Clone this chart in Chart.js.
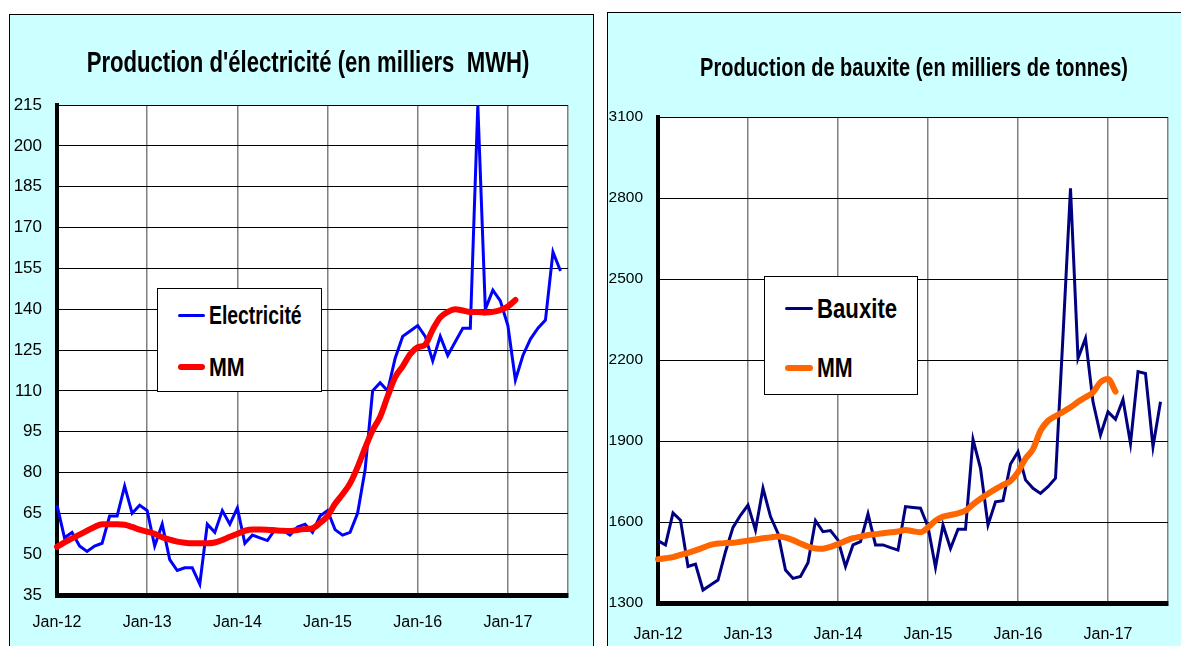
<!DOCTYPE html>
<html>
<head>
<meta charset="utf-8">
<script src="https://cdn.jsdelivr.net/npm/chart.js@4.4.1/dist/chart.umd.min.js"></script>
<style>
  html, body { margin: 0; padding: 0; width: 1181px; height: 646px; overflow: hidden; background: #fff; }
  .frame { position: absolute; background: #ccffff; border: 1px solid #000; box-sizing: border-box; }
  .box { position: absolute; }
  .title {
    position: absolute; white-space: nowrap;
    font-family: 'Liberation Sans', Arial, sans-serif; font-weight: bold; color: #000;
  }
  .legend {
    position: absolute; background: #fff; border: 1px solid #000; box-sizing: border-box;
    font-family: 'Liberation Sans', Arial, sans-serif; font-weight: bold; color: #000;
  }
  .legend .item { display: flex; align-items: center; white-space: nowrap; }
  .legend .swatch { display: inline-block; flex: none; border-radius: 3px; }
  .legend .txt { display: inline-block; transform-origin: left center; }
</style>
</head>
<body>
<div class="frame" style="left:9px; top:14px; width:585px; height:660px;"></div>
<div class="frame" style="left:607px; top:12px; width:600px; height:660px;"></div>

<div class="box" style="left:9px; top:14px; width:585px; height:632px;"><canvas id="elec"></canvas></div>
<div class="box" style="left:607px; top:12px; width:590px; height:634px;"><canvas id="baux"></canvas></div>

<div class="title" id="t1" data-cx="308" data-cy="62" data-w="443" style="font-size:30px;">Production d'électricité (en milliers&nbsp; MWH)</div>
<div class="title" id="t2" data-cx="914" data-cy="67" data-w="428" style="font-size:25px;">Production de bauxite (en milliers de tonnes)</div>

<div class="legend" id="legElec" style="left:157px; top:288px; width:165px; height:104px; font-size:25px;"></div>
<div class="legend" id="legBaux" style="left:764px; top:276px; width:154px; height:119px; font-size:28px;"></div>

<script>
const months = [
  'Jan-12','Feb-12','Mar-12','Apr-12','May-12','Jun-12','Jul-12','Aug-12','Sep-12','Oct-12','Nov-12','Dec-12',
  'Jan-13','Feb-13','Mar-13','Apr-13','May-13','Jun-13','Jul-13','Aug-13','Sep-13','Oct-13','Nov-13','Dec-13',
  'Jan-14','Feb-14','Mar-14','Apr-14','May-14','Jun-14','Jul-14','Aug-14','Sep-14','Oct-14','Nov-14','Dec-14',
  'Jan-15','Feb-15','Mar-15','Apr-15','May-15','Jun-15','Jul-15','Aug-15','Sep-15','Oct-15','Nov-15','Dec-15',
  'Jan-16','Feb-16','Mar-16','Apr-16','May-16','Jun-16','Jul-16','Aug-16','Sep-16','Oct-16','Nov-16','Dec-16',
  'Jan-17','Feb-17','Mar-17','Apr-17','May-17','Jun-17','Jul-17','Aug-17','Sep-17'
];

// Production d'électricité (milliers MWH)
const electricite = [
  68, 56, 58, 53, 51, 53, 54, 64, 64, 75, 65, 68,
  66, 53, 61, 48, 44, 45, 45, 39, 61, 58, 66, 61,
  67, 54, 57, 56, 55, 59, 59, 57, 60, 61, 58, 64,
  66, 59, 57, 58, 65, 81, 110, 113, 110, 122, 130, 132,
  134, 130, 121, 130, 123, 128, 133, 133, 215, 140, 147, 143,
  134, 114, 123, 129, 133, 136, 161, 154
];
const mmElectricite = [
  52.7, 54.3, 55.8, 57.2, 58.6, 60, 61, 61, 61, 60.8, 60, 59,
  58.3, 57.5, 56.2, 55.3, 54.6, 54.2, 54, 54, 54, 54.3, 55.2, 56.4,
  57.5, 58.6, 59.1, 59.1, 59, 58.8, 58.6, 58.5, 58.9, 59.2, 59.5, 61.5,
  64, 68.5, 72, 76, 82, 89, 95.5, 100.5, 108, 115, 119, 123.5,
  126, 127, 132.5, 137, 139, 140, 139.5, 139, 139, 138.8, 139, 139.7,
  141, 143.4
];
const elecTicks = [35, 50, 65, 80, 95, 110, 125, 140, 155, 170, 185, 200, 215];

// Production de bauxite (milliers de tonnes)
const bauxite = [
  1531, 1515, 1634, 1607, 1435, 1444, 1348, 1367, 1385, 1490, 1580, 1625,
  1663, 1570, 1725, 1620, 1558, 1422, 1391, 1398, 1449, 1605, 1564, 1568,
  1533, 1435, 1515, 1527, 1630, 1515, 1515, 1505, 1496, 1657, 1654, 1651,
  1583, 1432, 1589, 1502, 1573, 1573, 1906, 1799, 1589, 1675, 1679, 1815,
  1860, 1756, 1725, 1706, 1731, 1762, 2290, 2836, 2206, 2280, 2045, 1922,
  2008, 1980, 2054, 1891, 2157, 2150, 1879, 2045
];
const mmBauxite = [
  1462, 1466, 1470, 1478, 1486, 1495, 1505, 1515, 1520, 1522, 1523, 1527,
  1531, 1535, 1540, 1543, 1546, 1542, 1533, 1520, 1509, 1502, 1501, 1508,
  1518, 1530, 1540, 1546, 1552, 1555, 1558, 1562, 1565, 1570, 1566, 1562,
  1580, 1605, 1620, 1626, 1632, 1642, 1665, 1686, 1705, 1722, 1737, 1752,
  1785, 1835, 1870, 1938, 1975, 1992, 2008, 2025, 2045, 2062, 2080, 2118,
  2130, 2083
];
const bauxTicks = [1300, 1600, 1900, 2200, 2500, 2800, 3100];

const FONT = "'Liberation Sans', Arial, sans-serif";

// white plot area on the cyan frame
const whiteArea = {
  id: 'whiteArea',
  beforeDraw(chart) {
    const { ctx, chartArea: a } = chart;
    ctx.save();
    ctx.fillStyle = '#fff';
    ctx.fillRect(a.left, a.top, a.width, a.height);
    ctx.restore();
  }
};

function buildOptions(ticks, layout) {
  return {
    responsive: true,
    maintainAspectRatio: false,
    animation: false,
    layout: { padding: { top: layout.top, right: layout.right, bottom: 0, left: 0 } },
    plugins: { legend: { display: false }, title: { display: false }, tooltip: { enabled: false } },
    elements: { point: { radius: 0 } },
    scales: {
      x: {
        type: 'category',
        offset: false,
        grid: { color: '#808080', lineWidth: 1.5, drawTicks: false },
        border: { color: '#000', width: 5 },
        ticks: {
          autoSkip: false, maxRotation: 0, padding: layout.xPad, color: '#000',
          font: { family: FONT, size: 16 },
          callback(value, index) {
            const label = this.getLabelForValue(value);
            if (label.startsWith('Jan')) return label;
            return index === months.length - 1 ? '' : null;
          }
        },
        afterFit(scale) { scale.height = layout.xHeight; }
      },
      y: {
        min: ticks[0],
        max: ticks[ticks.length - 1],
        grid: { color: '#000', lineWidth: 1, drawTicks: false },
        border: { color: '#000', width: 4 },
        ticks: {
          stepSize: ticks[1] - ticks[0], padding: 15, color: '#000',
          font: { family: FONT, size: layout.yFont },
          callback: (value) => String(value)
        },
        afterFit(scale) { scale.width = layout.yWidth; }
      }
    }
  };
}

// squeeze a text element horizontally so it spans the wanted width
function fitWidth(el, target) {
  const w = el.offsetWidth;
  return w ? target / w : 1;
}

function buildLegend(chart, el, cfg) {
  el.style.paddingTop = cfg.padTop + 'px';
  chart.data.datasets.forEach((ds, i) => {
    const item = document.createElement('div');
    item.className = 'item';
    item.style.height = cfg.itemH + 'px';
    item.style.paddingLeft = cfg.padLeft + 'px';
    const sw = document.createElement('span');
    sw.className = 'swatch';
    sw.style.width = cfg.swatchW + 'px';
    sw.style.height = ds.borderWidth + 'px';
    sw.style.background = ds.borderColor;
    sw.style.marginRight = '4px';
    const txt = document.createElement('span');
    txt.className = 'txt';
    txt.textContent = ds.label;
    item.appendChild(sw);
    item.appendChild(txt);
    el.appendChild(item);
    txt.style.transform = `scaleX(${fitWidth(txt, cfg.textW[i])})`;
  });
}

const elecChart = new Chart(document.getElementById('elec'), {
  type: 'line',
  data: {
    labels: months,
    datasets: [
      { label: 'Electricité', data: electricite, borderColor: '#0000ff', borderWidth: 3, tension: 0, order: 1 },
      { label: 'MM', data: mmElectricite, borderColor: '#ff0000', borderWidth: 6, tension: 0.4,
        cubicInterpolationMode: 'monotone', borderCapStyle: 'round', order: 0 }
    ]
  },
  options: buildOptions(elecTicks, { top: 91, right: 26, yWidth: 48, xHeight: 51, xPad: 18, yFont: 17 }),
  plugins: [whiteArea]
});

const bauxChart = new Chart(document.getElementById('baux'), {
  type: 'line',
  data: {
    labels: months,
    datasets: [
      { label: 'Bauxite', data: bauxite, borderColor: '#000080', borderWidth: 3, tension: 0, order: 1 },
      { label: 'MM', data: mmBauxite, borderColor: '#ff6600', borderWidth: 6, tension: 0.4,
        cubicInterpolationMode: 'monotone', borderCapStyle: 'round', order: 0 }
    ]
  },
  options: buildOptions(bauxTicks, { top: 105, right: 29, yWidth: 51, xHeight: 43, xPad: 22, yFont: 15.5 }),
  plugins: [whiteArea]
});

buildLegend(elecChart, document.getElementById('legElec'),
  { padTop: 0, itemH: 52, padLeft: 20, swatchW: 27, textW: [93, 36] });
buildLegend(bauxChart, document.getElementById('legBaux'),
  { padTop: 2, itemH: 59, padLeft: 20, swatchW: 28, textW: [80, 36] });

['t1', 't2'].forEach(id => {
  const el = document.getElementById(id);
  el.style.left = el.dataset.cx + 'px';
  el.style.top = el.dataset.cy + 'px';
  const s = fitWidth(el, +el.dataset.w);
  el.style.transform = `translate(-50%, -50%) scaleX(${s})`;
});
</script>
</body>
</html>
